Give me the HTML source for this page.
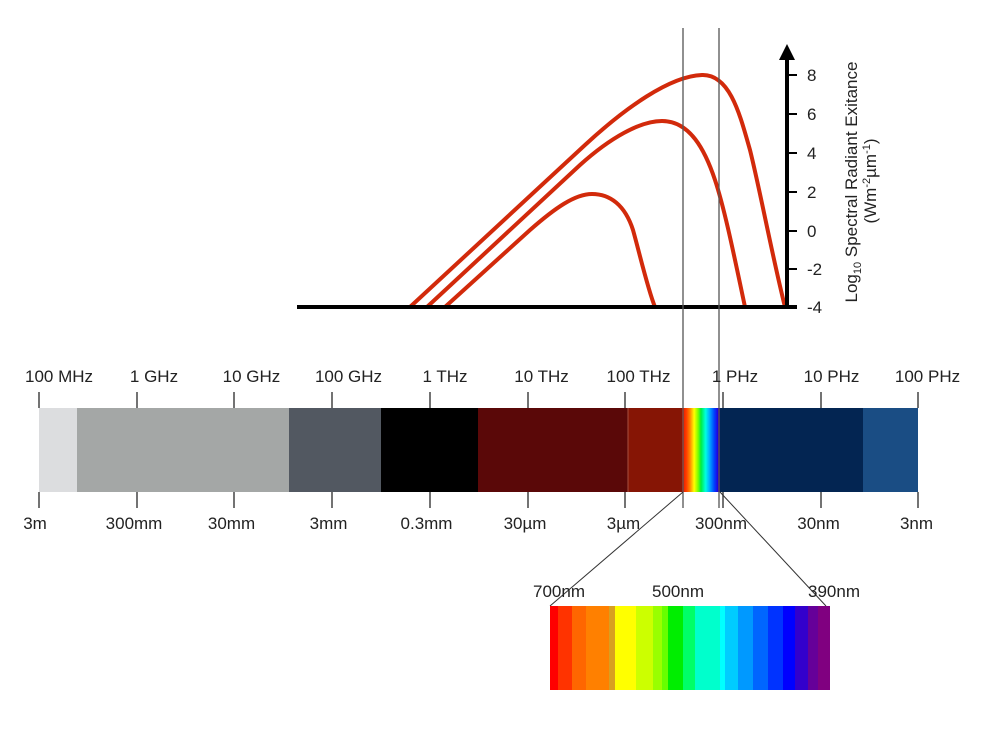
<!DOCTYPE html>
<html><head><meta charset="utf-8"><style>
html,body{margin:0;padding:0;background:#fff;}
svg{display:block;font-family:"Liberation Sans",Helvetica,Arial,sans-serif;}
</style></head><body>
<svg width="1000" height="750" viewBox="0 0 1000 750" xmlns="http://www.w3.org/2000/svg">
<defs>
<linearGradient id="vis" x1="0" x2="1" y1="0" y2="0">
<stop offset="0" stop-color="#e01000"/>
<stop offset="0.12" stop-color="#ff4000"/>
<stop offset="0.22" stop-color="#ff9000"/>
<stop offset="0.32" stop-color="#ffff00"/>
<stop offset="0.42" stop-color="#80ff00"/>
<stop offset="0.5" stop-color="#00ee40"/>
<stop offset="0.62" stop-color="#00ffe0"/>
<stop offset="0.72" stop-color="#00b0ff"/>
<stop offset="0.85" stop-color="#0040ff"/>
<stop offset="0.94" stop-color="#2000e0"/>
<stop offset="1" stop-color="#500080"/>
</linearGradient>
</defs>
<rect width="1000" height="750" fill="#fff"/>

<!-- curves -->
<g fill="none" stroke="#d22a0b" stroke-width="4" stroke-linejoin="round">
<path d="M410,307 L585,145 C625,108 670,76 702,75 C730,74 740,115 750,150 C760,190 772,255 785,307"/>
<path d="M427,307 L580,165 C610,138 640,121 662,121 C690,121 705,150 715,180 C725,210 735,260 745,307"/>
<path d="M445,307 L530,230 C555,208 575,194 592,194 C610,194 625,205 633,230 C640,255 648,290 655,307"/>
</g>

<!-- axis -->
<line x1="297" y1="307" x2="797" y2="307" stroke="#000" stroke-width="4"/>
<line x1="787" y1="309" x2="787" y2="56" stroke="#000" stroke-width="4"/>
<polygon points="787,44 779,60 795,60" fill="#000"/>
<g stroke="#000" stroke-width="2">
<line x1="787" y1="75" x2="797" y2="75"/>
<line x1="787" y1="114" x2="797" y2="114"/>
<line x1="787" y1="153" x2="797" y2="153"/>
<line x1="787" y1="192" x2="797" y2="192"/>
<line x1="787" y1="231" x2="797" y2="231"/>
<line x1="787" y1="269" x2="797" y2="269"/>
</g>
<g font-size="17" fill="#222">
<text x="807" y="81">8</text>
<text x="807" y="120">6</text>
<text x="807" y="159">4</text>
<text x="807" y="198">2</text>
<text x="807" y="237">0</text>
<text x="807" y="275">-2</text>
<text x="807" y="313">-4</text>
</g>
<text transform="translate(857,182) rotate(-90)" text-anchor="middle" font-size="17" fill="#222">Log<tspan font-size="11" dy="4">10</tspan><tspan dy="-4"> Spectral Radiant Exitance</tspan></text>
<text transform="translate(876,181) rotate(-90)" text-anchor="middle" font-size="17" fill="#222">(Wm<tspan font-size="11" dy="-6">-2</tspan><tspan dy="6">µm</tspan><tspan font-size="11" dy="-6">-1</tspan><tspan dy="6">)</tspan></text>

<!-- spectrum bar -->
<rect x="39" y="408" width="38" height="84" fill="#dcdddf"/>
<rect x="77" y="408" width="212" height="84" fill="#a4a7a6"/>
<rect x="289" y="408" width="92" height="84" fill="#525861"/>
<rect x="381" y="408" width="97" height="84" fill="#000"/>
<rect x="478" y="408" width="150" height="84" fill="#5a0808"/>
<rect x="628" y="408" width="54" height="84" fill="#861505"/>
<line x1="628" y1="408" x2="628" y2="492" stroke="#a85040" stroke-width="1"/>
<rect x="682" y="408" width="38" height="84" fill="url(#vis)"/>
<rect x="720" y="408" width="143" height="84" fill="#032552"/>
<rect x="863" y="408" width="55" height="84" fill="#1a4d84"/>

<g stroke="#444" stroke-width="1.5">
<line x1="39" y1="392" x2="39" y2="408"/><line x1="39" y1="492" x2="39" y2="508"/>
<line x1="137" y1="392" x2="137" y2="408"/><line x1="137" y1="492" x2="137" y2="508"/>
<line x1="234" y1="392" x2="234" y2="408"/><line x1="234" y1="492" x2="234" y2="508"/>
<line x1="332" y1="392" x2="332" y2="408"/><line x1="332" y1="492" x2="332" y2="508"/>
<line x1="430" y1="392" x2="430" y2="408"/><line x1="430" y1="492" x2="430" y2="508"/>
<line x1="528" y1="392" x2="528" y2="408"/><line x1="528" y1="492" x2="528" y2="508"/>
<line x1="625" y1="392" x2="625" y2="408"/><line x1="625" y1="492" x2="625" y2="508"/>
<line x1="723" y1="392" x2="723" y2="408"/><line x1="723" y1="492" x2="723" y2="508"/>
<line x1="821" y1="392" x2="821" y2="408"/><line x1="821" y1="492" x2="821" y2="508"/>
<line x1="918" y1="392" x2="918" y2="408"/><line x1="918" y1="492" x2="918" y2="508"/>
</g>

<!-- vertical marker lines -->
<g stroke="#555" stroke-width="1.3">
<line x1="683" y1="28" x2="683" y2="508"/>
<line x1="719" y1="28" x2="719" y2="508"/>
</g>
<!-- diagonals -->
<g stroke="#333" stroke-width="1">
<line x1="683" y1="492" x2="550" y2="606"/>
<line x1="720" y1="492" x2="826" y2="606"/>
</g>

<g font-size="17" fill="#222" text-anchor="middle">
<text x="59" y="382">100 MHz</text>
<text x="154" y="382">1 GHz</text>
<text x="251.5" y="382">10 GHz</text>
<text x="348.5" y="382">100 GHz</text>
<text x="445" y="382">1 THz</text>
<text x="541.5" y="382">10 THz</text>
<text x="638.5" y="382">100 THz</text>
<text x="735" y="382">1 PHz</text>
<text x="831.5" y="382">10 PHz</text>
<text x="927.5" y="382">100 PHz</text>

<text x="35" y="529">3m</text>
<text x="134" y="529">300mm</text>
<text x="231.5" y="529">30mm</text>
<text x="328.5" y="529">3mm</text>
<text x="426.5" y="529">0.3mm</text>
<text x="525" y="529">30µm</text>
<text x="623.5" y="529">3µm</text>
<text x="721" y="529">300nm</text>
<text x="818.5" y="529">30nm</text>
<text x="916.5" y="529">3nm</text>
</g>

<!-- visible spectrum detail -->
<g>
<rect x="550" y="606" width="8" height="84" fill="#ff0000"/>
<rect x="558" y="606" width="14" height="84" fill="#ff3300"/>
<rect x="572" y="606" width="14" height="84" fill="#ff6600"/>
<rect x="586" y="606" width="23" height="84" fill="#ff8000"/>
<rect x="609" y="606" width="6" height="84" fill="#d8a020"/>
<rect x="615" y="606" width="21" height="84" fill="#ffff00"/>
<rect x="636" y="606" width="17" height="84" fill="#ccff00"/>
<rect x="653" y="606" width="9" height="84" fill="#99ff00"/>
<rect x="662" y="606" width="6" height="84" fill="#66ff00"/>
<rect x="668" y="606" width="15" height="84" fill="#00ee00"/>
<rect x="683" y="606" width="12" height="84" fill="#00ff66"/>
<rect x="695" y="606" width="25" height="84" fill="#00ffcc"/>
<rect x="720" y="606" width="5" height="84" fill="#00ffff"/>
<rect x="725" y="606" width="13" height="84" fill="#00ccff"/>
<rect x="738" y="606" width="15" height="84" fill="#0099ff"/>
<rect x="753" y="606" width="15" height="84" fill="#0066ff"/>
<rect x="768" y="606" width="15" height="84" fill="#0033ff"/>
<rect x="783" y="606" width="12" height="84" fill="#0000ff"/>
<rect x="795" y="606" width="13" height="84" fill="#3300cc"/>
<rect x="808" y="606" width="10" height="84" fill="#660099"/>
<rect x="818" y="606" width="12" height="84" fill="#800080"/>
</g>
<g font-size="17" fill="#222" text-anchor="middle">
<text x="559" y="597">700nm</text>
<text x="678" y="597">500nm</text>
<text x="834" y="597">390nm</text>
</g>
</svg>
</body></html>
